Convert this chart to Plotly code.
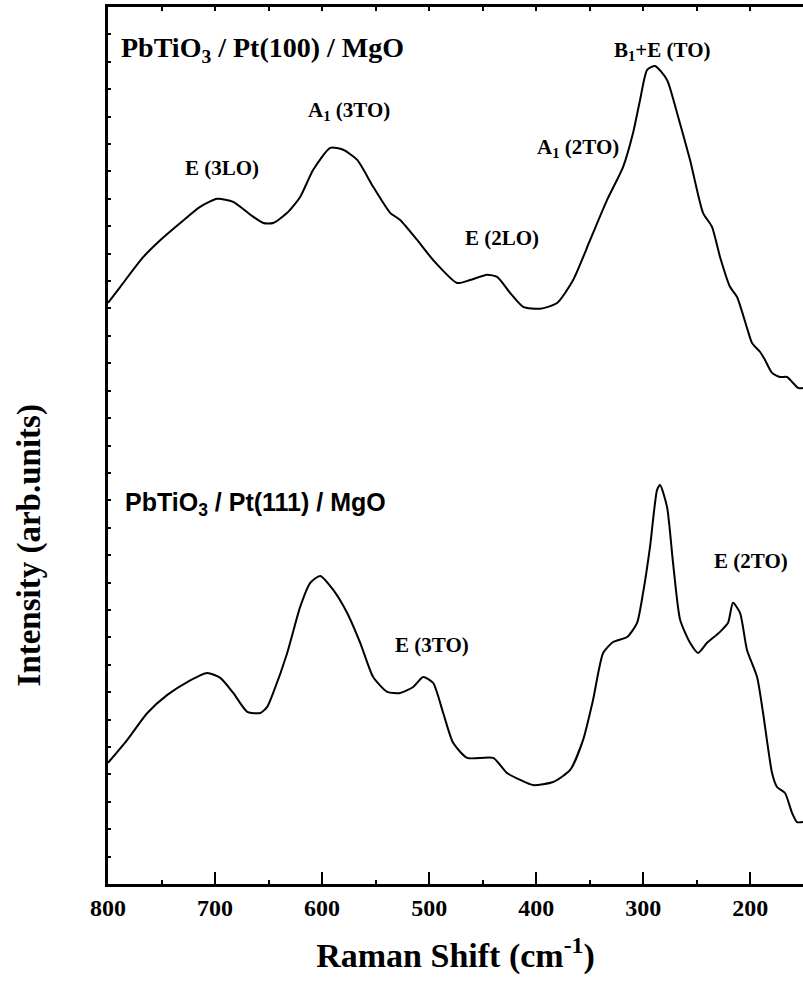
import plotly.graph_objects as go

# Raman shift (cm^-1) and intensity (arb. units)
x_pt100 = [800, 788.5, 767, 751, 732.5, 714, 698, 683, 667, 655, 645.6, 632.6, 620.5, 608.3,
           592.4, 580.3, 567.2, 552.3, 536.4, 527.1, 511.2, 496.3, 473.9, 461.7, 445.8, 436.5,
           424.4, 412.2, 396.4, 380.5, 365.5, 349.6, 333.8, 318.8, 309.5, 303, 296.4, 289,
           277.8, 268.5, 256.3, 244.2, 235.8, 228.3, 219, 212.4, 203.1, 198.4, 191, 186.3,
           179.7, 172.3, 165.7, 161, 155.4, 150.8]
y_pt100 = [21.20, 21.79, 22.88, 23.50, 24.12, 24.71, 25.00, 24.89, 24.42, 24.12, 24.12, 24.49,
           25.07, 26.06, 26.86, 26.79, 26.42, 25.44, 24.49, 24.23, 23.50, 22.77, 21.93, 22.04,
           22.23, 22.15, 21.57, 21.06, 20.99, 21.20, 22.04, 23.50, 24.96, 26.17, 27.41, 28.61,
           29.71, 29.85, 29.34, 28.14, 26.42, 24.49, 23.98, 22.88, 21.79, 21.42, 20.29, 19.74,
           19.42, 19.12, 18.65, 18.50, 18.50, 18.32, 18.10, 18.10]

x_pt111 = [800, 782, 763.3, 744.6, 726, 707.3, 695.1, 683, 669.9, 657.8, 651.3, 645.7, 632.6,
           620.5, 611.1, 601.8, 589.6, 576.6, 564.4, 552.3, 539.2, 527.1, 514.9, 505.6, 496.3,
           486.9, 477.6, 464.5, 440.2, 427.2, 415, 402.9, 384.2, 368.3, 356.2, 346.9, 337.5,
           328.2, 315.1, 305.8, 300.2, 293.7, 287.1, 284.3, 277.8, 272.2, 265.6, 256.3, 248.8,
           240.4, 228.3, 220.8, 216.2, 209.6, 203.1, 193.7, 188.1, 179.7, 175.1, 167.6, 161,
           156.4, 150.8]
y_pt111 = [4.42, 5.26, 6.24, 6.90, 7.37, 7.70, 7.52, 6.97, 6.28, 6.24, 6.46, 6.97, 8.43, 10.11,
           10.99, 11.24, 10.73, 9.89, 8.80, 7.55, 7.01, 6.97, 7.19, 7.55, 7.34, 6.24, 5.15, 4.60,
           4.60, 4.05, 3.80, 3.61, 3.72, 4.16, 5.26, 6.72, 8.43, 8.83, 9.01, 9.53, 10.62, 12.30,
           14.38, 14.56, 13.76, 11.72, 9.64, 8.80, 8.43, 8.80, 9.20, 9.53, 10.26, 9.89, 8.54,
           7.55, 6.24, 4.05, 3.54, 3.32, 2.59, 2.26, 2.26]

# peak labels: text, x (cm^-1), y (arb.)
peak_text = ["E (3LO)", "A<sub>1</sub> (3TO)", "E (2LO)", "A<sub>1</sub> (2TO)",
             "B<sub>1</sub>+E (TO)", "E (3TO)", "E (2TO)"]
peak_x = [693.1, 574.7, 431.9, 360.9, 282.4, 497.1, 199.2]
peak_y = [26.13, 28.2, 23.58, 26.85, 30.4, 8.72, 11.79]

sample_text = ["PbTiO<sub>3</sub> / Pt(100) / MgO", "PbTiO<sub>3</sub> / Pt(111) / MgO"]
sample_x = [789.4, 785.6]
sample_y = [30.45, 13.85]

x_range = [800, 150.8]
y_range = [0, 32]

serif = "Liberation Serif, Times New Roman, serif"
sans = "Liberation Sans, Arial, sans-serif"

fig = go.Figure()
fig.add_trace(go.Scatter(x=x_pt100, y=y_pt100, mode="lines",
                         line=dict(color="black", width=2, shape="spline", smoothing=0.6),
                         hoverinfo="skip"))
fig.add_trace(go.Scatter(x=x_pt111, y=y_pt111, mode="lines",
                         line=dict(color="black", width=2, shape="spline", smoothing=0.6),
                         hoverinfo="skip"))
# dummy trace to activate the top axis
fig.add_trace(go.Scatter(x=x_range, y=[None, None], xaxis="x2", mode="lines",
                         hoverinfo="skip", showlegend=False))

for t, xx, yy in zip(peak_text, peak_x, peak_y):
    fig.add_annotation(x=xx, y=yy, text=t, showarrow=False, xanchor="center", yanchor="middle",
                       font=dict(family=serif, size=21, color="black", weight="bold"))

fig.add_annotation(x=sample_x[0], y=sample_y[0], text=sample_text[0], showarrow=False,
                   xanchor="left", yanchor="middle",
                   font=dict(family=serif, size=28, color="black", weight="bold"))
fig.add_annotation(x=sample_x[1], y=sample_y[1], text=sample_text[1], showarrow=False,
                   xanchor="left", yanchor="middle",
                   font=dict(family=sans, size=25, color="black", weight="bold"))

fig.update_layout(
    width=803, height=987,
    margin=dict(l=108, r=0, t=7, b=103),
    paper_bgcolor="white", plot_bgcolor="white",
    showlegend=False,
    xaxis=dict(range=x_range, showgrid=False, zeroline=False,
               showline=True, linecolor="black", linewidth=2.5,
               ticks="inside", ticklen=12, tickwidth=2, tickcolor="black",
               tickmode="linear", tick0=800, dtick=100,
               minor=dict(ticks="inside", ticklen=4, tickwidth=1.5, tickcolor="black",
                          dtick=50, tick0=800, showgrid=False),
               tickfont=dict(family=serif, size=24, color="black", weight="bold"),
               title=dict(text="Raman Shift (cm<sup>-1</sup>)", standoff=24,
                          font=dict(family=serif, size=34, color="black", weight="bold"))),
    xaxis2=dict(range=x_range, overlaying="x", side="top", anchor="y",
                showgrid=False, zeroline=False, showline=True, linecolor="black",
                linewidth=2.5, ticks="inside", ticklen=4, tickwidth=1.5, tickcolor="black",
                tickmode="linear", tick0=800, dtick=50, showticklabels=False),
    yaxis=dict(range=y_range, showgrid=False, zeroline=False,
               showline=True, linecolor="black", linewidth=2.5,
               ticks="inside", ticklen=3, tickwidth=1.5, tickcolor="black",
               tickmode="linear", tick0=0, dtick=1, showticklabels=False),
)

fig.add_annotation(xref="paper", yref="paper", x=-0.1137, y=0.386,
                   text="Intensity (arb.units)", showarrow=False, textangle=-90,
                   xanchor="center", yanchor="middle",
                   font=dict(family=serif, size=33, color="black", weight="bold"))

fig.write_html("out.html")
